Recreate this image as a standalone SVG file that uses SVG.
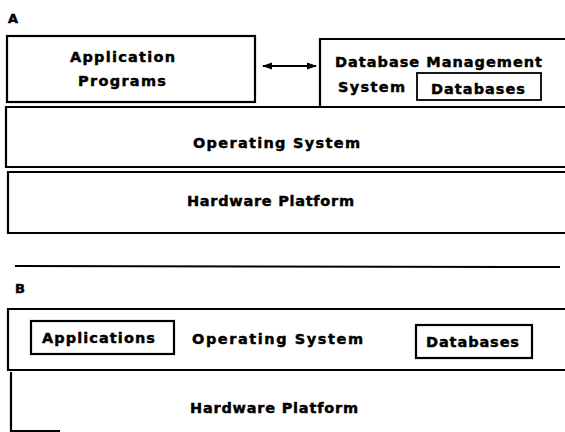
<svg xmlns="http://www.w3.org/2000/svg" width="565" height="432" viewBox="0 0 565 432">
  <style>
    .box { fill: none; stroke: #000; stroke-width: 2.2; }
    .inner { fill: none; stroke: #000; stroke-width: 1.8; }
    .lbl { font-family: "DejaVu Sans", "Liberation Sans", sans-serif; font-weight: bold; font-size: 14.5px; fill: #000; stroke: #000; stroke-width: 0.45; }
    .big { font-family: "DejaVu Sans", "Liberation Sans", sans-serif; font-weight: bold; font-size: 13px; fill: #000; stroke: #000; stroke-width: 0.5; }
    .line { stroke: #000; stroke-width: 2; fill: none; }
  </style>
  <defs>
    <marker id="head" viewBox="0 0 10 10" refX="9" refY="5" markerWidth="5" markerHeight="5" orient="auto-start-reverse">
      <path d="M0,1.5 L10,5 L0,8.5 z" fill="#000"/>
    </marker>
  </defs>
  <rect width="565" height="432" fill="#fff"/>

  <!-- Layout A -->
  <text class="big" x="8" y="23">A</text>

  <g id="a-app">
    <rect class="box" x="7" y="36" width="248" height="66"/>
    <text class="lbl" x="70" y="62" textLength="105" lengthAdjust="spacing">Application</text>
    <text class="lbl" x="78" y="86" textLength="88" lengthAdjust="spacing">Programs</text>
  </g>

  <g id="a-dbms">
    <path class="box" d="M567,39 H320 V107"/>
    <text class="lbl" x="335" y="67" textLength="207" lengthAdjust="spacing">Database Management</text>
    <text class="lbl" x="338" y="92" textLength="67" lengthAdjust="spacing">System</text>
  </g>

  <g id="a-db">
    <rect class="inner" x="417" y="73" width="124" height="27"/>
    <text class="lbl" x="431" y="94" textLength="94" lengthAdjust="spacing">Databases</text>
  </g>

  <g id="a-os">
    <path class="box" d="M567,107 H6 V167 H567"/>
    <text class="lbl" x="193" y="148" textLength="167" lengthAdjust="spacing">Operating  System</text>
  </g>

  <g id="a-hw">
    <path class="box" d="M567,172 H8 V233 H567"/>
    <text class="lbl" x="187" y="206" textLength="167" lengthAdjust="spacing">Hardware Platform</text>
  </g>

  <g id="connectors">
    <line class="line" x1="263" y1="66" x2="316" y2="66" marker-start="url(#head)" marker-end="url(#head)"/>
    <line class="line" x1="15" y1="266" x2="560" y2="267"/>
  </g>

  <!-- Layout B -->
  <text class="big" x="15" y="293">B</text>

  <g id="b-os">
    <path class="box" d="M567,309 H8 V370 H567"/>
    <text class="lbl" x="192" y="344" textLength="171" lengthAdjust="spacing">Operating  System</text>
  </g>

  <g id="b-apps">
    <rect class="box" x="31" y="321" width="143" height="33"/>
    <text class="lbl" x="42" y="343" textLength="113" lengthAdjust="spacing">Applications</text>
  </g>

  <g id="b-db">
    <rect class="box" x="416" y="325" width="116" height="33"/>
    <text class="lbl" x="426" y="347" textLength="93" lengthAdjust="spacing">Databases</text>
  </g>

  <g id="b-hw">
    <path class="box" d="M11,372 V431 H60"/>
    <text class="lbl" x="190" y="413" textLength="168" lengthAdjust="spacing">Hardware Platform</text>
  </g>
</svg>
